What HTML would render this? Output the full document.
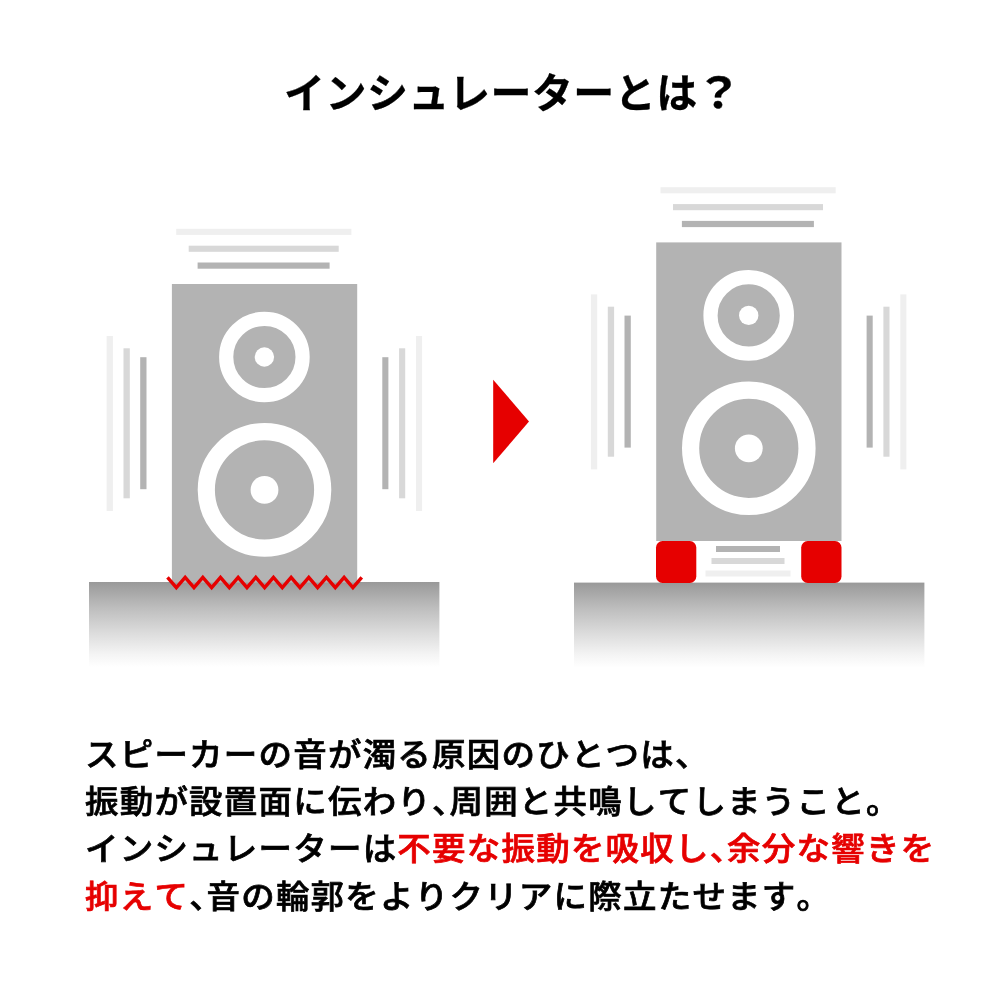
<!DOCTYPE html>
<html lang="ja">
<head>
<meta charset="utf-8">
<title>インシュレーターとは？</title>
<style>
html,body{margin:0;padding:0;background:#fff;}
body{width:1000px;height:1000px;position:relative;overflow:hidden;font-family:"Liberation Sans","Noto Sans CJK JP",sans-serif;color:#000;}
#art{position:absolute;left:0;top:0;width:1000px;height:1000px;}
h1{will-change:transform;position:absolute;left:283.5px;top:63.7px;margin:0;font-size:41px;line-height:60px;font-weight:700;letter-spacing:0.45px;white-space:nowrap;-webkit-text-stroke:0.3px #000;}
h1 .q{display:inline-block;letter-spacing:0;margin-left:0px;transform:translateY(-0.6px) scale(1.16,1.03);transform-origin:50% 50%;}
.body{position:absolute;left:84.6px;top:731px;margin:0;font-size:32.2px;line-height:47.5px;font-weight:500;-webkit-text-stroke:0.7px currentColor;will-change:transform;letter-spacing:1.185px;font-kerning:none;white-space:nowrap;transform:scaleX(1.04);transform-origin:0 0;}
.p{font-feature-settings:"halt";margin-right:-0.6px;}
.body span.l{display:block;height:47.5px;}
.body span.l1{position:relative;top:0.8px;}
.red{color:#e60000;}
</style>
</head>
<body>
<svg id="art" width="1000" height="1000" viewBox="0 0 1000 1000">
  <linearGradient id="fl" x1="0" y1="0" x2="0" y2="1">
      <stop offset="0" stop-color="#999999"/>
      <stop offset="0.3" stop-color="#bdbdbd"/>
      <stop offset="0.6" stop-color="#dcdcdc"/>
      <stop offset="0.85" stop-color="#f4f4f4"/>
      <stop offset="1" stop-color="#ffffff"/>
    </linearGradient>
  <!-- floors -->
  <rect x="89" y="582" width="350.4" height="85" fill="url(#fl)"/>
  <rect x="574" y="582.6" width="350.4" height="85" fill="url(#fl)"/>
  <!-- left speaker (vibrating on the floor) -->
  <g transform="translate(171.9 284)">
    <!-- top bars -->
    <rect x="4.3" y="-55.2" width="175.2" height="6.1" fill="#efefef"/>
    <rect x="16.8" y="-38.3" width="150" height="6.1" fill="#d8d8d8"/>
    <rect x="25.7" y="-21.5" width="132" height="6.2" fill="#b3b3b3"/>
    <!-- body -->
    <rect x="0" y="0" width="185.3" height="298.6" fill="#b3b3b3"/>
    <!-- left bars -->
    <rect x="-65.3" y="52" width="6.3" height="175" fill="#efefef"/>
    <rect x="-48.4" y="64.3" width="6.3" height="150" fill="#d8d8d8"/>
    <rect x="-31.7" y="73.2" width="6.3" height="132" fill="#b3b3b3"/>
    <!-- right bars -->
    <rect x="210.4" y="73.2" width="6.1" height="132" fill="#b3b3b3"/>
    <rect x="227.2" y="64.3" width="6.1" height="150" fill="#d8d8d8"/>
    <rect x="244.1" y="52" width="6.1" height="175" fill="#efefef"/>
    <!-- small driver -->
    <circle cx="92.5" cy="73" r="38.2" fill="none" stroke="#fff" stroke-width="14.2"/>
    <circle cx="92.5" cy="73" r="9.7" fill="#fff"/>
    <!-- big driver -->
    <circle cx="92.6" cy="205.9" r="58.2" fill="none" stroke="#fff" stroke-width="17.2"/>
    <circle cx="92.6" cy="205.9" r="13.9" fill="#fff"/>
    
  </g>
  <polyline points="167.50,577.3 176.33,587.6 185.16,577.3 193.99,587.6 202.82,577.3 211.65,587.6 220.48,577.3 229.31,587.6 238.14,577.3 246.97,587.6 255.80,577.3 264.63,587.6 273.46,577.3 282.29,587.6 291.12,577.3 299.95,587.6 308.78,577.3 317.61,587.6 326.44,577.3 335.27,587.6 344.10,577.3 352.93,587.6 361.76,577.3" fill="none" stroke="#e60000" stroke-width="3.4" stroke-linejoin="miter"/>
  <!-- arrow -->
  <polygon points="493.2,379.8 529,421.5 493.2,463.2" fill="#e60000"/>
  <!-- right speaker (on insulators) -->
  <g transform="translate(656.2 242.4)">
    <!-- top bars -->
    <rect x="4.3" y="-55.2" width="175.2" height="6.1" fill="#efefef"/>
    <rect x="16.8" y="-38.3" width="150" height="6.1" fill="#d8d8d8"/>
    <rect x="25.7" y="-21.5" width="132" height="6.2" fill="#b3b3b3"/>
    <!-- body -->
    <rect x="0" y="0" width="185.3" height="298.6" fill="#b3b3b3"/>
    <!-- left bars -->
    <rect x="-65.3" y="52" width="6.3" height="175" fill="#efefef"/>
    <rect x="-48.4" y="64.3" width="6.3" height="150" fill="#d8d8d8"/>
    <rect x="-31.7" y="73.2" width="6.3" height="132" fill="#b3b3b3"/>
    <!-- right bars -->
    <rect x="210.4" y="73.2" width="6.1" height="132" fill="#b3b3b3"/>
    <rect x="227.2" y="64.3" width="6.1" height="150" fill="#d8d8d8"/>
    <rect x="244.1" y="52" width="6.1" height="175" fill="#efefef"/>
    <!-- small driver -->
    <circle cx="92.5" cy="73" r="38.2" fill="none" stroke="#fff" stroke-width="14.2"/>
    <circle cx="92.5" cy="73" r="9.7" fill="#fff"/>
    <!-- big driver -->
    <circle cx="92.6" cy="205.9" r="58.2" fill="none" stroke="#fff" stroke-width="17.2"/>
    <circle cx="92.6" cy="205.9" r="13.9" fill="#fff"/>
    
  </g>
  <rect x="656" y="541" width="40.3" height="42" rx="6.5" fill="#e60000"/>
  <rect x="801.2" y="541" width="40.3" height="42" rx="6.5" fill="#e60000"/>
  <rect x="716" y="546" width="64" height="6" fill="#b3b3b3"/>
  <rect x="711.5" y="558" width="73" height="6" fill="#d8d8d8"/>
  <rect x="705.5" y="570.5" width="85" height="6" fill="#efefef"/>
</svg>
<h1>インシュレーターとは<span class="q">？</span></h1>
<p class="body"><span class="l l1">スピーカーの音が濁る原因のひとつは<span class="p">、</span></span><span class="l">振動が設置面に伝わり<span class="p">、</span>周囲と共鳴してしまうこと<span class="p">。</span></span><span class="l">インシュレーターは<span class="red">不要な振動を吸収し<span class="p">、</span>余分な響きを</span></span><span class="l"><span class="red">抑えて</span><span class="p">、</span>音の輪郭をよりクリアに際立たせます<span class="p">。</span></span></p>
</body>
</html>
